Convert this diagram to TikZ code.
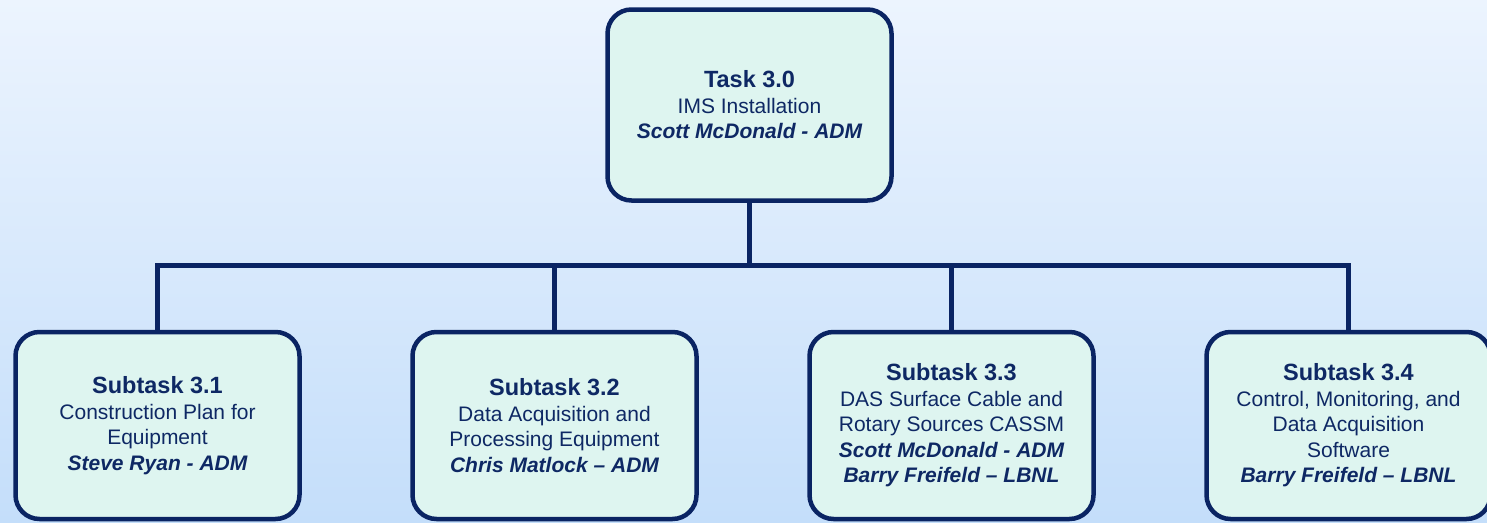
\documentclass[tikz,border=0pt]{standalone}
\usepackage{fontspec}
\setmainfont{Liberation Sans}
\usetikzlibrary{positioning}
\definecolor{NavyLine}{RGB}{10,36,99}
\definecolor{NavyText}{RGB}{14,40,100}
\definecolor{MintFill}{RGB}{222,245,240}
\definecolor{SkyTop}{RGB}{236,244,254}
\definecolor{SkyBottom}{RGB}{196,222,250}
\newcommand{\tasktitle}[1]{{\fontsize{23.5}{25.5}\selectfont\bfseries #1}}
\newcommand{\taskowner}[1]{{\bfseries\itshape #1}}
\tikzset{
  taskbox/.style={draw=NavyLine, fill=MintFill, line width=4.5pt,
    rounded corners=24pt, minimum width=284pt, text=NavyText,
    align=center, font=\fontsize{21}{25.5}\selectfont},
  toptask/.style={taskbox, minimum height=191pt},
  subtask/.style={taskbox, minimum height=187pt},
  link/.style={draw=NavyLine, line width=5pt}
}

\begin{document}
\begin{tikzpicture}[x=1pt, y=-1pt]
  \useasboundingbox (0,0) rectangle (1487,522);
  \clip (0,0) rectangle (1487,522);
  \shade[top color=SkyTop, bottom color=SkyBottom] (0,0) rectangle (1487,522);
  % top task
  \node[toptask] (task) at (749.5,105) {\tasktitle{Task 3.0}\\IMS Installation\\\taskowner{Scott McDonald - ADM}};
  % subtasks
  \node[subtask] (sub1) at (157.5,425.5) {\tasktitle{Subtask 3.1}\\Construction Plan for\\Equipment\\\taskowner{Steve Ryan - ADM}};
  \node[subtask, right=108.5pt of sub1] (sub2) {\tasktitle{Subtask 3.2}\\Data Acquisition and\\Processing Equipment\\\taskowner{Chris Matlock -- ADM}};
  \node[subtask, right=108.5pt of sub2] (sub3) {\tasktitle{Subtask 3.3}\\DAS Surface Cable and\\Rotary Sources CASSM\\\taskowner{Scott McDonald - ADM}\\\taskowner{Barry Freifeld -- LBNL}};
  \node[subtask, right=108.5pt of sub3] (sub4) {\tasktitle{Subtask 3.4}\\Control, Monitoring, and\\Data Acquisition\\Software\\\taskowner{Barry Freifeld -- LBNL}};
  % connectors
  \coordinate (bus) at (749.5,265);
  \draw[link] (task.south) -- (bus);
  \draw[link] (sub1.north) |- (bus);
  \draw[link] (sub2.north) |- (bus);
  \draw[link] (sub3.north) |- (bus);
  \draw[link] (sub4.north) |- (bus);
\end{tikzpicture}
\end{document}
